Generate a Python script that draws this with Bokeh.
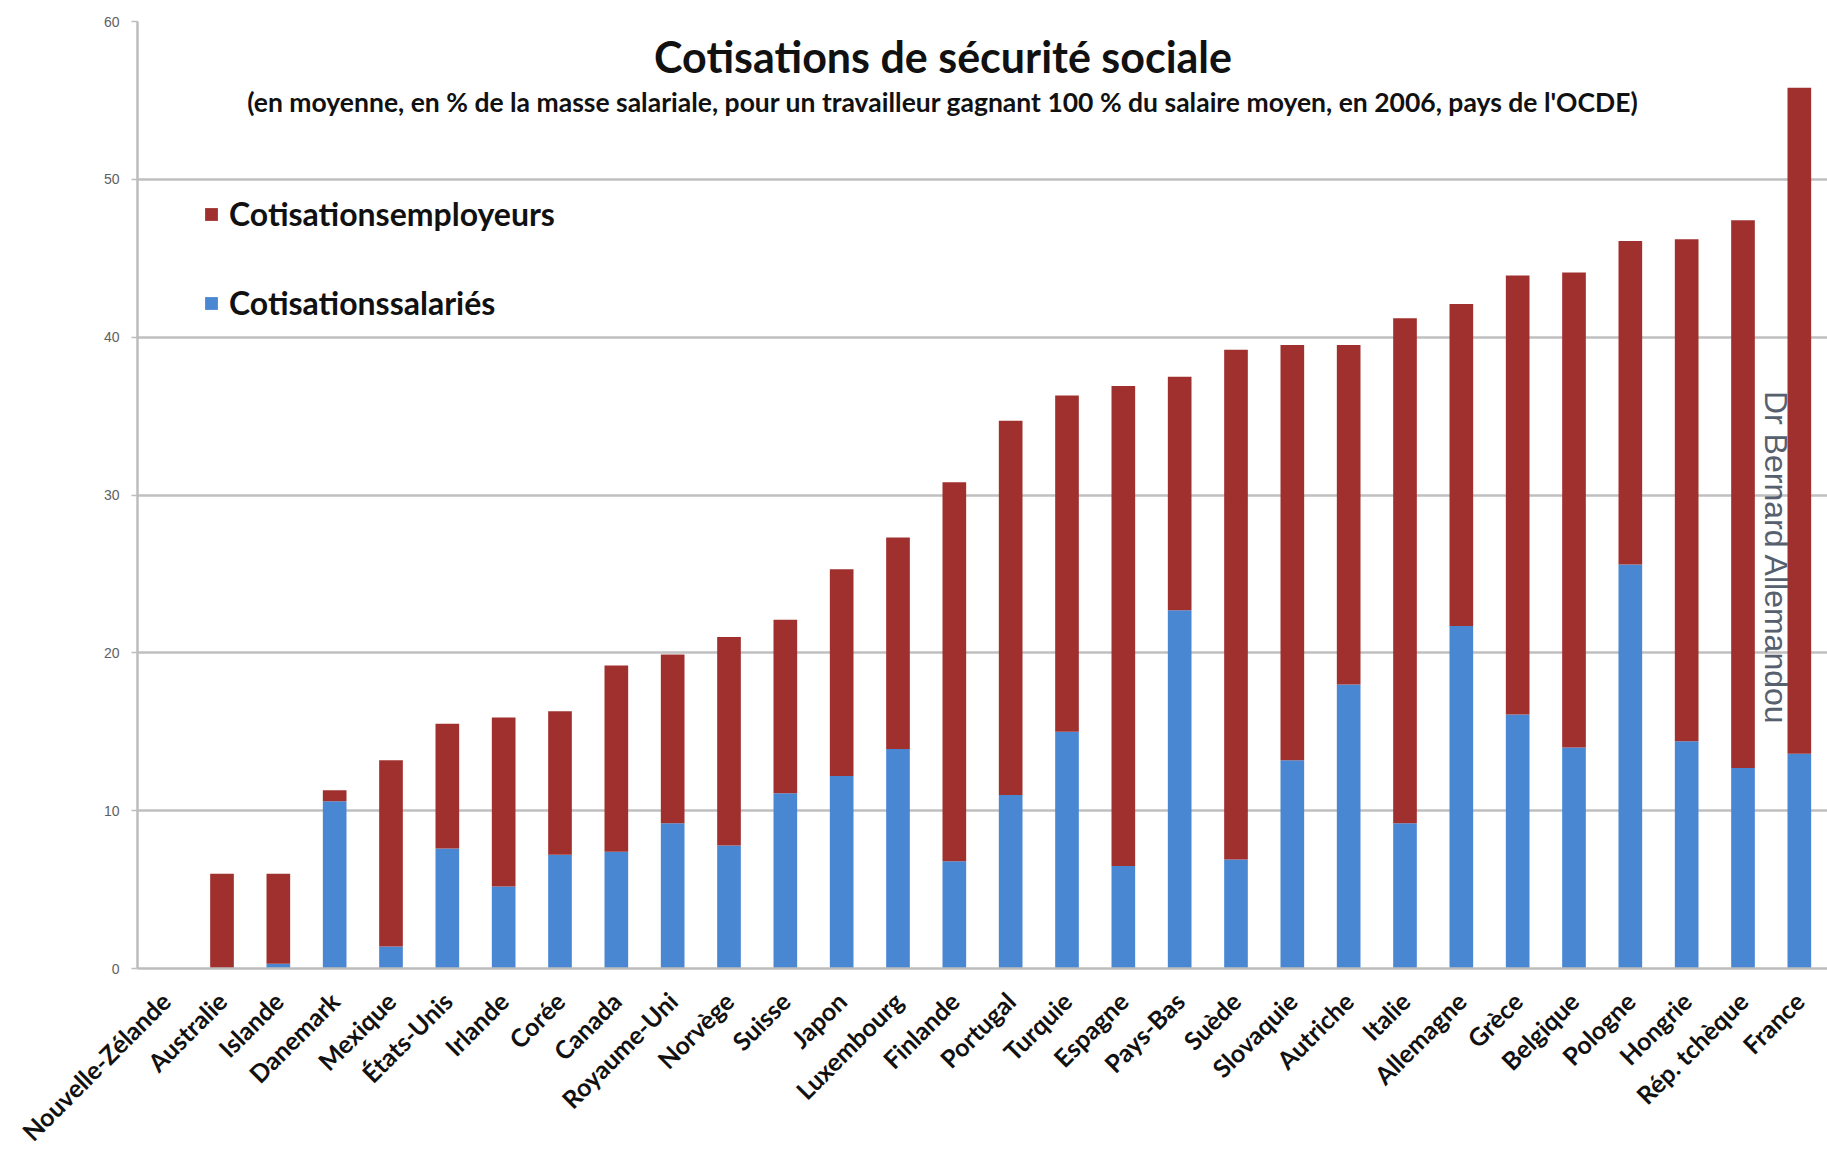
import math
from bokeh.plotting import figure
from bokeh.models import Range1d, Legend, LegendItem, Label, FixedTicker
from bokeh.embed import file_html
from bokeh.resources import INLINE

# Pays de l'OCDE, classés par total des cotisations (2006)
pays = [
    "Nouvelle-Zélande", "Australie", "Islande", "Danemark", "Mexique", "États-Unis",
    "Irlande", "Corée", "Canada", "Royaume-Uni", "Norvège", "Suisse", "Japon",
    "Luxembourg", "Finlande", "Portugal", "Turquie", "Espagne", "Pays-Bas", "Suède",
    "Slovaquie", "Autriche", "Italie", "Allemagne", "Grèce", "Belgique", "Pologne",
    "Hongrie", "Rép. tchèque", "France",
]

# Part salariés (% de la masse salariale)
salaries = [
    0.0, 0.0, 0.3, 10.6, 1.4, 7.6, 5.2, 7.2, 7.4, 9.2, 7.8, 11.1, 12.2,
    13.9, 6.8, 11.0, 15.0, 6.5, 22.7, 6.9, 13.2, 18.0, 9.2, 21.7, 16.1,
    14.0, 25.6, 14.4, 12.7, 13.6,
]

# Total salariés + employeurs
totaux = [
    0.0, 6.0, 6.0, 11.3, 13.2, 15.5, 15.9, 16.3, 19.2, 19.9, 21.0, 22.1, 25.3,
    27.3, 30.8, 34.7, 36.3, 36.9, 37.5, 39.2, 39.5, 39.5, 41.2, 42.1, 43.9,
    44.1, 46.1, 46.2, 47.4, 55.8,
]

employeurs = [round(t - s, 2) for t, s in zip(totaux, salaries)]

y_ticks = [0, 10, 20, 30, 40, 50, 60]

titre = "Cotisations de sécurité sociale"
sous_titre = ("(en moyenne, en % de la masse salariale, pour un travailleur gagnant "
              "100 % du salaire moyen, en 2006, pays de l'OCDE)")
auteur = "Dr Bernard Allemandou"

ROUGE = "#9f302e"
BLEU = "#4a87d3"

p = figure(
    x_range=pays,
    y_range=Range1d(0, 60),
    width=1827, height=1160,
    output_backend="svg", toolbar_location=None,
    min_border_left=137, min_border_right=0,
    min_border_top=21, min_border_bottom=192,
)
p.x_range.range_padding = 0
p.outline_line_color = None
p.background_fill_color = "white"
p.border_fill_color = "white"

data = {"pays": pays, "salaries": salaries, "employeurs": employeurs}
rends = p.vbar_stack(
    ["salaries", "employeurs"], x="pays", width=0.42, source=data,
    color=[BLEU, ROUGE], line_color=None,
)

# grille horizontale
p.xgrid.grid_line_color = None
p.ygrid.grid_line_color = "#c0c0c0"
p.ygrid.grid_line_width = 2.5
p.yaxis.ticker = FixedTicker(ticks=y_ticks)

# axe vertical
p.yaxis.axis_line_color = "#bdbdbd"
p.yaxis.axis_line_width = 2.5
p.yaxis.major_tick_line_color = "#bdbdbd"
p.yaxis.major_tick_line_width = 1.5
p.yaxis.major_tick_in = 0
p.yaxis.major_tick_out = 6
p.yaxis.minor_tick_line_color = None
p.yaxis.major_label_text_font = "Liberation Sans"
p.yaxis.major_label_text_font_size = "14px"
p.yaxis.major_label_text_color = "#606060"
p.yaxis.major_label_standoff = 12

# axe horizontal
p.xaxis.axis_line_color = "#bdbdbd"
p.xaxis.axis_line_width = 2.5
p.xaxis.major_tick_line_color = None
p.xaxis.minor_tick_line_color = None
p.xaxis.major_label_orientation = math.pi / 4
p.xaxis.major_label_text_font = "Lato"
p.xaxis.major_label_text_font_style = "bold"
p.xaxis.major_label_text_font_size = "25px"
p.xaxis.major_label_text_color = "#111111"
p.xaxis.major_label_standoff = 22

# titres
p.add_layout(Label(
    x=14.3, y=57.8, text=titre, text_align="center", text_baseline="middle",
    text_font="Lato", text_font_style="bold", text_font_size="43px",
    text_color="#111111",
))
p.add_layout(Label(
    x=14.3, y=54.9, text=sous_titre, text_align="center", text_baseline="middle",
    text_font="Lato", text_font_style="bold", text_font_size="26.5px",
    text_color="#111111",
))

# signature verticale
p.add_layout(Label(
    x=29.08, y=26.0, text=auteur, angle=-math.pi / 2, text_align="center",
    text_baseline="middle", text_font="Liberation Sans", text_font_size="32px",
    text_color="#56606e",
))

legend = Legend(
    items=[
        LegendItem(label="Cotisationsemployeurs", renderers=[rends[1]]),
        LegendItem(label="Cotisationssalariés", renderers=[rends[0]]),
    ],
    location=(66, 646),
    orientation="vertical",
    background_fill_alpha=0,
    border_line_color=None,
    padding=0, margin=0,
    spacing=50,
    glyph_width=16, glyph_height=16,
    label_height=32, label_standoff=10,
    label_text_font="Lato", label_text_font_style="bold",
    label_text_font_size="32px", label_text_color="#111111",
)
p.add_layout(legend)

open("out.html", "w").write(file_html(p, INLINE))
